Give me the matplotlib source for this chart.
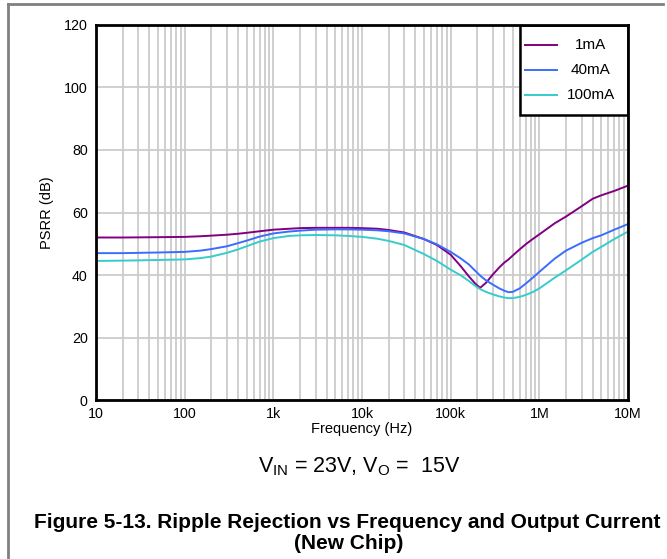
import numpy as np
import matplotlib
matplotlib.use("Agg")
import matplotlib.pyplot as plt
from matplotlib.lines import Line2D
from matplotlib.patches import Rectangle
from matplotlib.ticker import LogLocator, FixedLocator, FixedFormatter, NullFormatter

plt.rcParams['font.family'] = ['Liberation Sans', 'DejaVu Sans']

# frequency points (Hz)
freq = [10, 20, 50, 100, 150, 200, 300, 400, 500, 700,
        1e3, 1.5e3, 2e3, 3e3, 5e3, 7e3, 10e3, 15e3, 20e3, 30e3,
        50e3, 70e3, 100e3, 130e3, 160e3, 190e3, 215e3, 250e3, 300e3, 350e3,
        400e3, 450e3, 500e3, 600e3, 700e3, 850e3, 1e6, 1.5e6, 2e6, 3e6,
        4e6, 5e6, 7e6, 10e6]

psrr_1ma = [52.0, 52.0, 52.1, 52.2, 52.4, 52.6, 52.9, 53.2, 53.5, 54.0,
            54.5, 54.8, 55.0, 55.1, 55.1, 55.1, 55.0, 54.8, 54.4, 53.6,
            51.5, 49.6, 46.5, 42.8, 39.6, 37.2, 35.9, 37.5, 40.2, 42.3,
            43.9, 45.0, 46.2, 48.2, 49.8, 51.6, 53.0, 56.6, 58.7, 62.0,
            64.4, 65.5, 66.9, 68.6]
psrr_40ma = [47.0, 47.0, 47.2, 47.4, 47.8, 48.3, 49.2, 50.2, 51.0, 52.3,
             53.3, 53.9, 54.2, 54.5, 54.6, 54.6, 54.5, 54.3, 54.0, 53.3,
             51.5, 49.8, 47.4, 45.3, 43.4, 41.3, 39.8, 38.3, 36.9, 35.8,
             35.0, 34.5, 34.6, 35.7, 37.2, 39.2, 41.0, 45.3, 47.8, 50.3,
             51.8, 52.7, 54.5, 56.3]
psrr_100ma = [44.5, 44.6, 44.8, 45.0, 45.4, 45.9, 47.1, 48.2, 49.2, 50.7,
              51.8, 52.5, 52.7, 52.8, 52.7, 52.5, 52.2, 51.6, 50.9, 49.6,
              46.7, 44.5, 41.7, 39.9, 38.1, 36.5, 35.5, 34.6, 33.8, 33.2,
              32.8, 32.6, 32.6, 33.0, 33.6, 34.6, 35.7, 39.2, 41.5, 44.9,
              47.4, 49.0, 51.5, 53.9]

labels = ['1mA', '40mA', '100mA']
colors = ['#800080', '#3a6dff', '#36cccc']

x_ticks = [10, 100, 1e3, 1e4, 1e5, 1e6, 1e7]
x_ticklabels = ['10', '100', '1k', '10k', '100k', '1M', '10M']
y_ticks = [0, 20, 40, 60, 80, 100, 120]

fig = plt.figure(figsize=(6.67, 5.59), dpi=100)
ax = fig.add_axes([0.144, 0.2844, 0.7975, 0.6709])

for vals, lab, col in zip([psrr_1ma, psrr_40ma, psrr_100ma], labels, colors):
    ax.plot(freq, vals, color=col, lw=1.4, label=lab, zorder=3)

ax.set_xscale('log')
ax.set_xlim(10, 1e7)
ax.set_ylim(0, 120)
ax.xaxis.set_major_locator(FixedLocator(x_ticks))
ax.xaxis.set_major_formatter(FixedFormatter(x_ticklabels))
ax.xaxis.set_minor_locator(LogLocator(base=10, subs=np.arange(2, 10)))
ax.xaxis.set_minor_formatter(NullFormatter())
ax.set_yticks(y_ticks)
ax.grid(True, which='major', color='#cccccc', lw=1.3)
ax.grid(True, which='minor', axis='x', color='#cccccc', lw=1.3)
ax.tick_params(which='both', length=0, labelsize=10.3)
ax.tick_params(axis='x', pad=5)
ax.tick_params(axis='y', pad=6)

for sp in ax.spines.values():
    sp.set_linewidth(2)
    sp.set_color('black')
    sp.set_zorder(6)

ax.set_xlabel('Frequency (Hz)', fontsize=10.5, labelpad=1)
ax.set_ylabel('PSRR (dB)', fontsize=10.5, labelpad=7)

# legend box drawn in axes coordinates, labels centred like the original
ax.add_patch(Rectangle((0.797, 0.76), 0.203, 0.24, transform=ax.transAxes,
                       facecolor='white', edgecolor='black', lw=1.8, zorder=5))
for i, (lab, col) in enumerate(zip(labels, colors)):
    yy = 0.947 - i * 0.067
    ax.add_line(Line2D([0.806, 0.867], [yy, yy], color=col, lw=1.4,
                       transform=ax.transAxes, zorder=6))
    ax.text(0.930, yy, lab, transform=ax.transAxes, ha='center', va='center',
            fontsize=11, zorder=6)

fig.text(0.538, 0.166, r'V$_{\mathregular{IN}}$ = 23V, V$_{\mathregular{O}}$ =  15V',
         ha='center', va='center', fontsize=15.5)
fig.text(0.521, 0.066, 'Figure 5-13. Ripple Rejection vs Frequency and Output Current',
         ha='center', va='center', fontsize=15, fontweight='bold')
fig.text(0.523, 0.027, '(New Chip)',
         ha='center', va='center', fontsize=15, fontweight='bold')

# outer frame (top and left edges)
fig.add_artist(Line2D([0.012, 0.994], [0.993, 0.993], color='#808080', lw=2,
                      transform=fig.transFigure))
fig.add_artist(Line2D([0.012, 0.012], [0.0, 0.993], color='#808080', lw=2,
                      transform=fig.transFigure))

fig.savefig('out.png', dpi=100)
